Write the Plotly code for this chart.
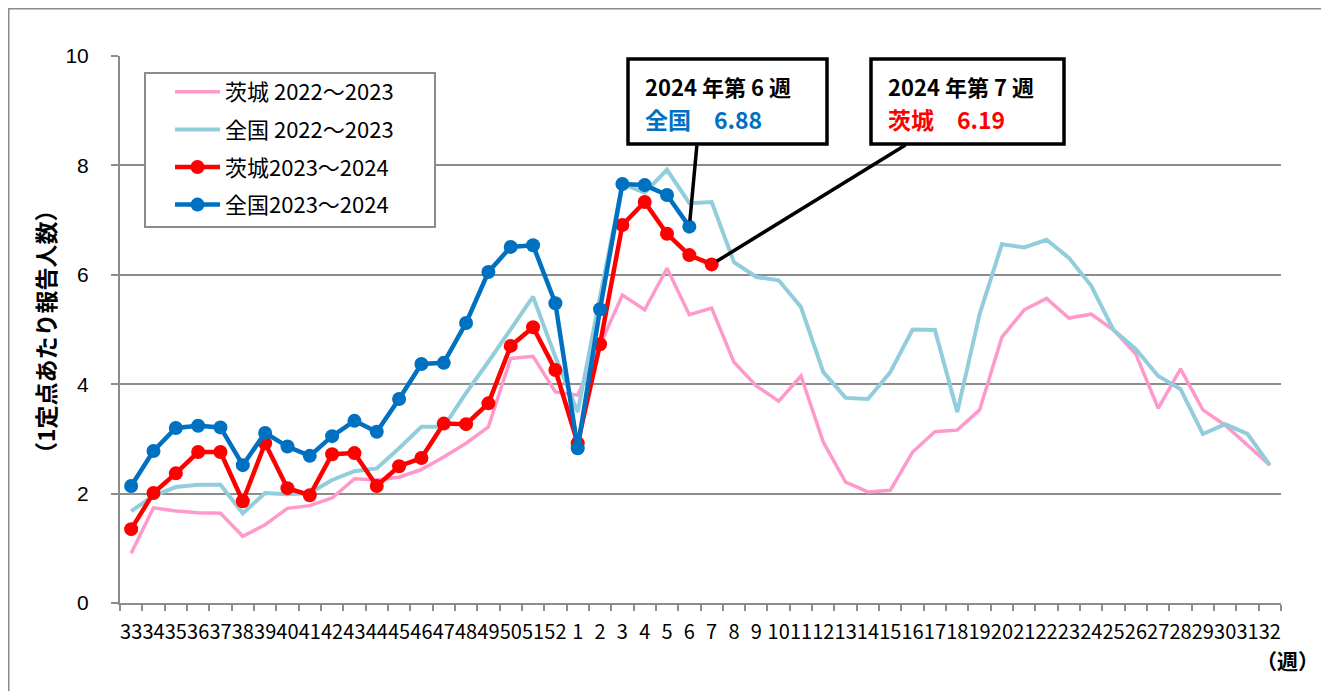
import plotly.graph_objects as go

weeks = [str(w) for w in range(33, 53)] + [str(w) for w in range(1, 33)]

ibaraki_2223 = [0.91, 1.74, 1.68, 1.65, 1.64, 1.22, 1.43, 1.73, 1.78, 1.92,
                2.27, 2.25, 2.30, 2.44, 2.67, 2.92, 3.22, 4.47, 4.51, 3.86,
                3.80, 4.70, 5.63, 5.36, 6.12, 5.27, 5.39, 4.40, 3.97, 3.69,
                4.15, 2.94, 2.21, 2.03, 2.06, 2.76, 3.13, 3.16, 3.53, 4.86,
                5.36, 5.57, 5.21, 5.28, 4.99, 4.55, 3.56, 4.28, 3.53, 3.25,
                2.89, 2.52]
zenkoku_2223 = [1.68, 1.96, 2.12, 2.16, 2.16, 1.64, 2.01, 1.99, 2.01, 2.25,
                2.41, 2.46, 2.83, 3.22, 3.22, 3.84, 4.41, 5.00, 5.60, 4.50,
                3.49, 5.60, 7.66, 7.50, 7.92, 7.31, 7.33, 6.23, 5.96, 5.90,
                5.41, 4.22, 3.75, 3.73, 4.22, 5.00, 4.99, 3.49, 5.28, 6.56,
                6.50, 6.64, 6.31, 5.80, 4.99, 4.64, 4.15, 3.91, 3.09, 3.27,
                3.09, 2.52]
ibaraki_2324 = [1.35, 2.01, 2.37, 2.76, 2.76, 1.86, 2.92, 2.10, 1.97, 2.72,
                2.74, 2.14, 2.50, 2.65, 3.28, 3.27, 3.65, 4.70, 5.04, 4.26,
                2.92, 4.73, 6.91, 7.33, 6.75, 6.36, 6.19]
zenkoku_2324 = [2.14, 2.78, 3.20, 3.24, 3.21, 2.52, 3.11, 2.86, 2.69, 3.05,
                3.33, 3.13, 3.73, 4.37, 4.39, 5.12, 6.05, 6.51, 6.54, 5.48,
                2.83, 5.37, 7.66, 7.64, 7.46, 6.88]

series_names = ["茨城 2022～2023", "全国 2022～2023", "茨城2023～2024", "全国2023～2024"]
y_ticks = [0, 2, 4, 6, 8, 10]

# page offset (browser body margin)
OFF = 8
W, H = 1329 - 2 * OFF, 699 - 2 * OFF
PL, PT, PR, PB = 120, 56, 1281, 603        # plot area in screenshot pixels
ML, MT = PL - OFF, PT - OFF
PW, PH = PR - PL, PB - PT
MR, MB = W - ML - PW, H - MT - PH


def px(x):
    return (x - PL) / PW


def py(y):
    return (PB - y) / PH


JP = "Noto Sans CJK JP"

fig = go.Figure()
fig.add_trace(go.Scatter(x=weeks, y=ibaraki_2223, mode="lines", name=series_names[0],
                         line=dict(color="#FF99CC", width=3.5), legendgroup="a"))
fig.add_trace(go.Scatter(x=weeks, y=zenkoku_2223, mode="lines", name=series_names[1],
                         line=dict(color="#92CDDC", width=4), legendgroup="b"))
fig.add_trace(go.Scatter(x=weeks[:len(ibaraki_2324)], y=ibaraki_2324, mode="lines+markers",
                         name=series_names[2], line=dict(color="#FF0000", width=4.5),
                         marker=dict(size=14, color="#FF0000"), legendgroup="c"))
fig.add_trace(go.Scatter(x=weeks[:len(zenkoku_2324)], y=zenkoku_2324, mode="lines+markers",
                         name=series_names[3], line=dict(color="#0070C0", width=4.5),
                         marker=dict(size=14, color="#0070C0"), legendgroup="d"))

fig.update_layout(
    width=W, height=H,
    margin=dict(l=ML, r=MR, t=MT, b=MB, autoexpand=False),
    paper_bgcolor="white", plot_bgcolor="white",
    font=dict(family=JP, color="black"),
    showlegend=True,
    legend=dict(x=px(170), y=py(71), xanchor="left", yanchor="top",
                bgcolor="rgba(0,0,0,0)", borderwidth=0,
                font=dict(family=JP, size=22, color="black"),
                traceorder="grouped", tracegroupgap=6, itemwidth=45),
    xaxis=dict(type="category", categoryorder="array", categoryarray=weeks,
               range=[-0.5, len(weeks) - 0.5],
               tickmode="array", tickvals=weeks, ticktext=weeks, tickangle=0,
               showline=True, linecolor="#8c8c8c", linewidth=2,
               ticks="outside", ticklen=6, tickcolor="#8c8c8c", tickwidth=1.5,
               tickson="boundaries", showgrid=False, zeroline=False,
               tickfont=dict(family=JP, size=20, color="black"),
               ticklabelstandoff=10),
    yaxis=dict(range=[0, 10], tickvals=y_ticks, ticktext=[str(v) for v in y_ticks],
               showline=True, linecolor="#8c8c8c", linewidth=2,
               ticks="outside", ticklen=7, tickcolor="#8c8c8c", tickwidth=1.5,
               showgrid=True, gridcolor="#8c8c8c", gridwidth=1.5, zeroline=False,
               tickfont=dict(family="Liberation Sans", size=21, color="black"),
               ticklabelstandoff=18),
)

# outer border of the chart area
fig.add_shape(type="rect", xref="paper", yref="paper",
              x0=px(8.5), x1=px(1322.5), y0=py(720), y1=py(8.5),
              line=dict(color="#8c8c8c", width=2), fillcolor="rgba(0,0,0,0)", layer="below")

# legend frame (opaque, hides grid lines behind the legend)
fig.add_shape(type="rect", xref="paper", yref="paper",
              x0=px(145), x1=px(435), y0=py(227), y1=py(73),
              line=dict(color="#8c8c8c", width=2), fillcolor="white", layer="above")

# axis titles
fig.add_annotation(xref="paper", yref="paper", x=px(45), y=py(332),
                   xanchor="center", yanchor="middle",
                   text="<b>（1定点あたり報告人数）</b>", textangle=-90, showarrow=False,
                   font=dict(family=JP, size=23, color="black"))
fig.add_annotation(xref="paper", yref="paper", x=px(1321), y=py(660),
                   xanchor="right", yanchor="middle",
                   text="<b>（週）</b>", showarrow=False,
                   font=dict(family=JP, size=21, color="black"))

# callout boxes
boxes = [
    dict(left=628, right=827, week="6", value=zenkoku_2324[-1], tail=(697, 144),
         line1="2024 年第 6 週", line2="全国　%.2f" % zenkoku_2324[-1], color="#0070C0"),
    dict(left=871, right=1064, week="7", value=ibaraki_2324[-1], tail=(907, 144),
         line1="2024 年第 7 週", line2="茨城　%.2f" % ibaraki_2324[-1], color="#FF0000"),
]
BOX_TOP, BOX_BOTTOM = 59, 144
n = len(weeks)
for b in boxes:
    idx = weeks.index(b["week"])
    head_x = PL + (idx + 0.5) * PW / n
    head_y = PB - b["value"] / 10 * PH
    fig.add_annotation(x=idx, y=b["value"], xref="x", yref="y",
                       ax=b["tail"][0] - head_x, ay=b["tail"][1] - head_y,
                       text="", showarrow=True, arrowhead=0, arrowwidth=3.5,
                       arrowcolor="black", standoff=6)
    fig.add_shape(type="rect", xref="paper", yref="paper",
                  x0=px(b["left"]), x1=px(b["right"]), y0=py(BOX_BOTTOM), y1=py(BOX_TOP),
                  line=dict(color="black", width=3.5), fillcolor="white", layer="above")
    fig.add_annotation(xref="paper", yref="paper", x=px(b["left"] + 15), y=py(86),
                       xanchor="left", yanchor="middle", showarrow=False,
                       text="<b>%s</b>" % b["line1"],
                       font=dict(family=JP, size=22, color="black"))
    fig.add_annotation(xref="paper", yref="paper", x=px(b["left"] + 15), y=py(119),
                       xanchor="left", yanchor="middle", showarrow=False,
                       text="<b>%s</b>" % b["line2"],
                       font=dict(family=JP, size=23, color=b["color"]))

fig.write_html("out.html")
